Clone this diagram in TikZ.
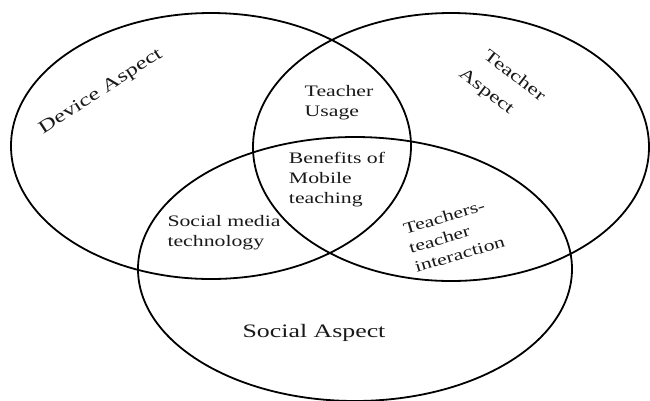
\documentclass[tikz,border=0pt]{standalone}
\usepackage{fontspec}
\setmainfont{Liberation Serif}[FakeStretch=1.36]
\begin{document}
\begin{tikzpicture}[x=1pt,y=-1pt,
  ring/.style={draw=black, line width=1.8pt},
  lbl/.style={font=\fontsize{16}{20}\selectfont, align=left, inner sep=0pt, text=black!90}]
\useasboundingbox (0,0) rectangle (650,400);
\draw[ring] (211,146) ellipse [x radius=200pt, y radius=133pt];
\draw[ring] (451,147) ellipse [x radius=198pt, y radius=134pt];
\draw[ring] (355,269) ellipse [x radius=217pt, y radius=132pt];
\node[lbl, rotate=33, font=\fontsize{18}{22}\selectfont] (dev) at (101,92) {Device Aspect};
\node[lbl, rotate=-37.5, font=\fontsize{17}{21}\selectfont] (tch1) at (515,75) {Teacher};
\node[lbl, rotate=-37.5, font=\fontsize{17}{21}\selectfont] (tch2) at (486,92) {Aspect};
\node[lbl] (usage) at (339,103) {Teacher\\Usage};
\node[lbl] (ben) at (337,180) {Benefits of\\Mobile\\teaching};
\node[lbl] (smt) at (224,233) {Social media\\technology};
\node[lbl, rotate=16.5] (tti) at (454,235) {Teachers-\\teacher\\interaction};
\node[lbl, font=\fontsize{19}{23}\selectfont] (soc) at (314,333) {Social Aspect};
\end{tikzpicture}
\end{document}
